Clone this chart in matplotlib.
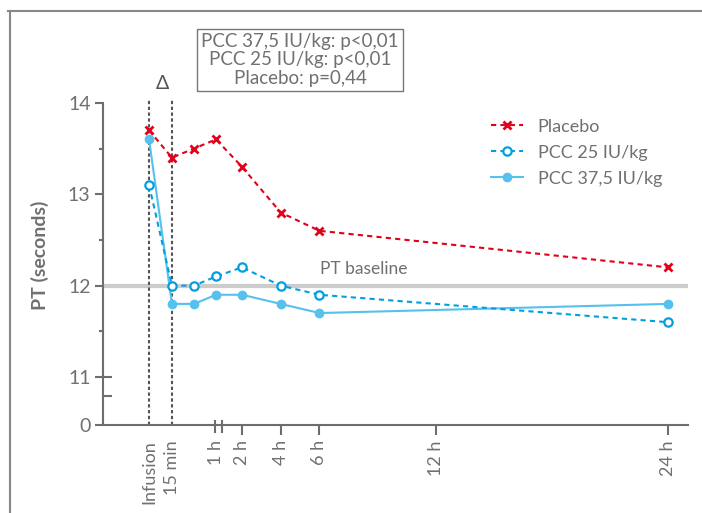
import numpy as np
import matplotlib
matplotlib.use('Agg')
import matplotlib.pyplot as plt
from matplotlib.lines import Line2D

# data
time_labels = ['Infusion', '15 min', '30 min', '1 h', '2 h', '4 h', '6 h', '24 h']
placebo = [13.7, 13.4, 13.5, 13.6, 13.3, 12.8, 12.6, 12.2]
pcc25 = [13.1, 12.0, 12.0, 12.1, 12.2, 12.0, 11.9, 11.6]
pcc375 = [13.6, 11.8, 11.8, 11.9, 11.9, 11.8, 11.7, 11.8]
baseline = 12.0
tick_labels = ['Infusion', '15 min', '1 h', '2 h', '4 h', '6 h', '12 h', '24 h']
stats_text = 'PCC 37,5 IU/kg: p<0,01\nPCC 25 IU/kg: p<0,01\nPlacebo: p=0,44'

# x axis: hours from 2 h on, early points squeezed before the break
pos = {'Infusion': -2.8, '15 min': -1.62, '30 min': -0.48, '1 h': 0.66,
       '2 h': 2, '4 h': 4, '6 h': 6, '12 h': 12, '24 h': 24}
x = [pos[t] for t in time_labels]

gray = '#707070'
axc = '#6e6e6e'
red = '#e3001b'
blue = '#00a0e0'
lblue = '#55c1ec'
y_zero = 10.475  # where "0" sits on the broken y axis

plt.rcParams['font.family'] = ['Lato', 'DejaVu Sans']

fig = plt.figure(figsize=(7.02, 5.13), dpi=100)
ax = fig.add_axes([103/702, 88/513, 585/702, 345/513])
ax.set_xlim(-5.18, 25.04)
ax.set_ylim(y_zero, 14.25)

# outer frame (top and left only)
fig.add_artist(Line2D([8/702, 1], [1-11/513, 1-11/513], color='#888888', lw=1.5))
fig.add_artist(Line2D([10/702, 10/702], [0, 1-11/513], color='#888888', lw=1.5))

# baseline
ax.axhline(baseline, color='#cccccc', lw=3, zorder=1)
ax.text(8.3, baseline + 0.09, 'PT baseline', color=gray, fontsize=12.5, ha='center', va='bottom')

# infusion / 15 min markers
for t in ['Infusion', '15 min']:
    ax.plot([pos[t], pos[t]], [y_zero, 14.04], color='#555555', lw=1.5,
            linestyle=(0, (1.6, 1.2)), zorder=2, clip_on=False)
ax.text((pos['Infusion'] + pos['15 min']) / 2 + 0.12, 14.12, 'Δ', color='#555555',
        fontsize=14, ha='center', va='bottom')

ax.plot(x, placebo, color=red, lw=1.5, linestyle=(0, (2.5, 2)), marker='x',
        markersize=6, markeredgewidth=2, label='Placebo', zorder=4, clip_on=False)
ax.plot(x, pcc25, color=blue, lw=1.5, linestyle=(0, (2.5, 2)), marker='o',
        markersize=6, markerfacecolor='white', markeredgewidth=1.6,
        label='PCC 25 IU/kg', zorder=4, clip_on=False)
ax.plot(x, pcc375, color=lblue, lw=1.5, marker='o', markersize=6,
        label='PCC 37,5 IU/kg', zorder=3, clip_on=False)

# spines
for s in ['top', 'right']:
    ax.spines[s].set_visible(False)
ax.spines['left'].set_bounds(y_zero, 14)
for s in ['left', 'bottom']:
    ax.spines[s].set_color(axc)
    ax.spines[s].set_linewidth(1.5)

# y ticks
ax.set_yticks([y_zero, 11, 12, 13, 14])
ax.set_yticklabels(['0', '11', '12', '13', '14'])
ax.set_yticks([11.5, 12.5, 13.5], minor=True)
ax.tick_params(axis='y', which='major', length=6, width=1.5, color=axc,
               labelcolor=gray, labelsize=14, pad=3)
ax.tick_params(axis='y', which='minor', length=3, width=1.5, color=axc)
# y break marks
for yb in [11, 10.79]:
    ax.plot([-5.18, -4.75], [yb, yb], color=axc, lw=1.5, clip_on=False)

# x ticks
ax.set_xticks([pos[t] for t in tick_labels])
ax.set_xticklabels(tick_labels, rotation=90)
ax.tick_params(axis='x', length=7, width=1.5, color=axc, labelcolor=gray,
               labelsize=13, pad=4)
xt = ax.xaxis.get_major_ticks()
for i in range(3):
    xt[i].tick1line.set_visible(False)
# x break marks around 1 h
for xb in [0.6, 0.95]:
    ax.plot([xb, xb], [y_zero - 0.075, y_zero + 0.04], color=axc, lw=1.5, clip_on=False)

ax.set_ylabel('PT (seconds)', color=gray, fontsize=14, fontweight='bold')
ax.yaxis.set_label_coords(-0.092, 0.493)

leg = ax.legend(loc='upper left', bbox_to_anchor=(0.635, 0.935), frameon=False,
                fontsize=13, handlelength=1.8, handletextpad=0.8, labelspacing=0.55)
for txt in leg.get_texts():
    txt.set_color(gray)

fig.text(300/702, 1-60/513, stats_text, ha='center', va='center', color=gray,
         fontsize=13.5, linespacing=1.1,
         bbox=dict(boxstyle='square,pad=0.2', facecolor='white', edgecolor='#777777', lw=1))

plt.savefig('out.png', dpi=100)
